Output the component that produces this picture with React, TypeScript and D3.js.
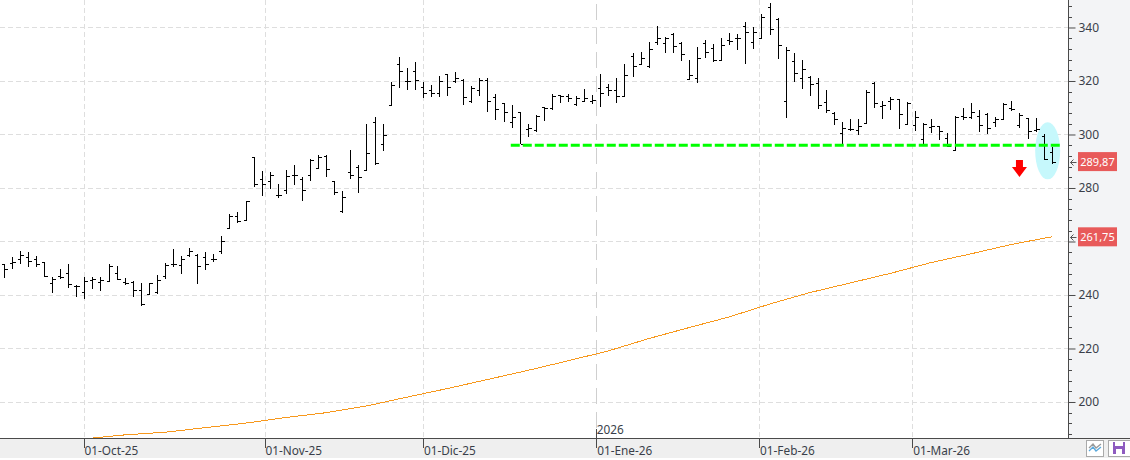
import { useEffect, useRef } from 'react';
import * as d3 from 'd3';

const opens = [251.6,251.8,253.6,254.3,253.5,252.2,244.4,247.1,248.1,243.4,241.1,245.6,244.9,245.1,248.1,245.0,244.9,241.7,240.2,241.2,247.2,251.7,251.2,254.8,255.1,254.1,253.6,256.3,265.2,269.4,267.9,291.6,283.2,282.5,277.5,279.1,285.0,283.4,284.7,287.6,292.1,282.5,271.5,285.8,288.0,286.6,304.6,296.3,310.9,326.2,320.1,323.6,317.9,316.7,315.7,322.5,319.9,320.4,312.7,316.5,320.4,314.2,311.6,304.5,308.3,301.9,301.8,310.2,309.8,314.7,314.5,311.5,312.7,312.5,317.3,317.9,316.7,314.3,329.2,326.4,325.5,334.7,334.2,337.6,334.2,320.6,321.0,334.2,332.5,328.0,335.5,336.0,340.5,334.5,336.2,347.8,343.1,312.5,327.4,321.0,321.4,319.1,312.0,308.2,300.7,301.9,301.7,304.2,319.3,310.6,312.5,313.1,303.8,303.4,298.2,302.9,303.2,298.6,294.2,306.9,306.7,306.9,307.7,304.7,305.7,309.8,303.7,306.2,301.8,299.4,293.4];
const highs = [251.7,254.1,256.4,256.1,254.7,252.5,246.7,249.6,251.6,243.7,246.9,246.9,246.9,251.5,250.7,246.4,245.1,244.5,244.6,247.4,252.1,257.2,254.6,257.4,255.2,256.2,255.2,262.1,270.2,271.0,275.3,291.6,286.2,286.0,281.5,286.7,288.6,284.0,291.0,292.2,292.2,282.7,278.9,294.2,288.7,303.9,306.4,304.1,319.5,328.8,324.7,327.0,319.8,318.4,321.7,322.6,323.2,320.6,318.0,321.3,321.0,315.0,311.6,310.9,308.4,304.1,307.3,310.2,315.0,314.9,315.2,314.3,316.9,314.8,322.6,319.0,321.0,326.4,330.5,330.9,334.4,340.6,336.6,337.8,334.7,327.9,332.7,335.2,333.7,336.1,338.0,337.5,342.2,340.0,344.9,349.2,343.4,332.6,330.5,327.7,321.9,321.0,316.6,308.5,304.5,305.8,305.8,316.5,319.5,312.4,313.9,313.1,312.3,308.7,304.2,305.7,303.3,300.4,306.9,309.8,311.8,309.2,307.9,306.4,311.6,312.4,307.9,306.2,306.2,300.0,295.4];
const lows = [246.4,249.8,251.7,250.6,250.6,246.9,240.7,246.1,242.7,239.4,238.6,242.4,241.6,244.7,245.7,243.9,239.4,236.0,240.2,240.2,246.1,250.3,248.0,254.3,244.2,249.5,252.2,255.4,264.5,266.8,267.8,280.2,277.1,279.7,276.4,277.6,281.2,275.3,282.7,287.2,284.0,277.5,270.8,283.5,278.2,286.6,288.7,293.9,310.9,317.5,316.7,316.7,313.7,314.1,314.1,314.5,319.1,311.1,311.9,314.5,308.5,305.5,304.6,302.5,296.3,299.0,301.1,305.2,309.2,311.9,312.3,310.8,312.2,311.4,310.4,314.5,311.9,314.2,321.6,325.8,324.9,333.6,330.6,330.6,327.6,320.5,319.4,328.7,327.2,327.5,333.6,331.6,326.5,332.1,335.6,337.2,328.4,306.3,319.8,317.1,314.5,309.7,308.2,303.7,296.4,301.4,299.9,304.2,310.0,305.9,309.2,302.2,303.8,301.4,296.4,300.7,298.0,295.2,294.0,305.4,305.8,301.0,300.3,302.9,305.7,308.7,302.5,298.4,300.9,290.5,289.1];
const closes = [249.6,252.2,254.8,252.6,251.6,247.2,246.1,246.6,244.1,243.4,245.1,246.0,245.5,251.0,246.0,244.6,241.7,236.6,244.4,245.5,251.2,251.7,253.5,256.3,250.7,251.7,253.6,260.2,269.7,267.7,275.1,281.4,281.5,284.7,277.3,284.5,285.0,279.1,290.5,291.7,287.0,278.6,276.5,285.0,284.2,292.9,289.2,299.7,318.5,323.6,320.1,320.3,315.4,315.7,319.9,317.6,321.3,313.9,317.2,320.2,312.4,309.4,308.4,306.4,296.5,302.5,307.1,309.8,314.4,314.4,313.7,313.5,313.8,313.0,315.4,316.8,314.3,322.1,325.5,328.5,331.9,336.2,336.0,332.9,330.1,322.1,328.5,330.7,327.9,333.4,334.8,336.0,338.2,338.2,343.8,339.6,333.5,331.6,323.0,324.4,318.9,311.0,309.2,305.7,302.5,302.2,303.3,315.8,311.6,311.0,313.3,307.7,311.6,306.4,303.9,303.3,301.3,295.7,306.7,306.7,308.5,303.6,302.3,305.7,311.3,309.4,307.3,301.3,302.2,290.8,289.87];

// moving average, read every few sessions
const maSessions = [11,15,20,25,30,35,40,45,50,55,60,65,70,75,80,85,90,95,100,105,110,115,120,125,130];
const maValues = [186.5,187.7,188.7,190.4,192.1,194.2,196.0,198.5,201.8,205.0,208.4,211.8,215.4,219.1,223.7,227.8,231.8,236.6,240.9,244.5,248.1,252.1,255.4,258.9,261.75];

const dateLabels = ['01-Oct-25','01-Nov-25','01-Dic-25','01-Ene-26','01-Feb-26','01-Mar-26'];
const dateSessions = [9.9,32.36,52.0,73.5,93.7,112.7];
const yearSession = 73.45;
const priceTicks = [200,220,240,260,280,300,320,340];
const minorTicks = d3.range(188, 352, 4);

const supportPrice = 296;
const supportFrom = 62.9;
const supportTo = 131;
const lastPrice = 289.87;
const maLast = 261.75;

const W = 1130;
const H = 460;
const plotRight = 1068;
const plotBottom = 438;
const font = '"Noto Sans", sans-serif';
const textColor = '#3a3f4a';

export default function App() {
  const svgRef = useRef<SVGSVGElement>(null);

  useEffect(() => {
    if (!svgRef.current) return;
    const svg = d3.select(svgRef.current);
    svg.selectAll('*').remove();

    const x = d3.scaleLinear().domain([0, 130]).range([3.7, 1051.7]);
    const y = d3.scaleLinear().domain([186.54, 350.28]).range([plotBottom, 0]);
    const px = (v: number) => Math.round(v) + 0.5;

    svg.append('rect').attr('width', W).attr('height', H).attr('fill', '#fff');

    // panels
    svg.append('rect').attr('x', plotRight).attr('y', 0)
      .attr('width', W - plotRight).attr('height', plotBottom).attr('fill', '#f3f4f6');
    svg.append('rect').attr('x', 0).attr('y', plotBottom)
      .attr('width', W).attr('height', 20).attr('fill', '#efefef');

    // Grid lines
    svg.selectAll('.h-grid').data(priceTicks).enter().append('line')
      .attr('class', 'h-grid')
      .attr('x1', 0).attr('x2', plotRight)
      .attr('y1', d => px(y(d))).attr('y2', d => px(y(d)))
      .attr('stroke', '#dedede').attr('stroke-dasharray', '5,3');

    svg.selectAll('.v-grid').data(dateSessions.filter(d => d !== 73.5)).enter().append('line')
      .attr('class', 'v-grid')
      .attr('x1', d => px(x(d))).attr('x2', d => px(x(d)))
      .attr('y1', 0).attr('y2', plotBottom)
      .attr('stroke', '#dedede').attr('stroke-dasharray', '5,3');

    svg.append('line')
      .attr('x1', px(x(yearSession))).attr('x2', px(x(yearSession)))
      .attr('y1', 4).attr('y2', plotBottom)
      .attr('stroke', '#cfcfcf').attr('stroke-dasharray', '16,8');

    // Highlight ellipse behind the last bars
    svg.append('ellipse')
      .attr('cx', x(129.5)).attr('cy', y(293.9))
      .attr('rx', 12.5).attr('ry', 28.5)
      .attr('fill', '#c6f8fc');

    // Moving average
    const maLine = d3.line<number>()
      .x((_, i) => x(maSessions[i]))
      .y(d => y(d));
    svg.append('path')
      .datum(maValues)
      .attr('fill', 'none')
      .attr('stroke', '#f7981d')
      .attr('stroke-width', 1)
      .attr('shape-rendering', 'crispEdges')
      .attr('d', maLine);

    // OHLC bars
    const bars = svg.append('g')
      .attr('stroke', '#000')
      .attr('stroke-width', 1)
      .attr('shape-rendering', 'crispEdges');
    opens.forEach((open, i) => {
      const cx = px(x(i));
      bars.append('line').attr('x1', cx).attr('x2', cx)
        .attr('y1', y(highs[i])).attr('y2', y(lows[i]));
      bars.append('line').attr('x1', cx - 3).attr('x2', cx)
        .attr('y1', px(y(open))).attr('y2', px(y(open)));
      bars.append('line').attr('x1', cx).attr('x2', cx + 3)
        .attr('y1', px(y(closes[i]))).attr('y2', px(y(closes[i])));
    });

    // Support line
    svg.append('line')
      .attr('x1', x(supportFrom)).attr('x2', x(supportTo))
      .attr('y1', y(supportPrice)).attr('y2', y(supportPrice))
      .attr('stroke', '#00ff00').attr('stroke-width', 3)
      .attr('stroke-dasharray', '9,3');

    // Red down arrow
    const ax = x(126);
    const aTop = y(290.5);
    const aTip = y(284.1);
    svg.append('path')
      .attr('d', `M${ax - 3.5},${aTop}H${ax + 3.5}V${aTop + 7}H${ax + 7.5}L${ax},${aTip}L${ax - 7.5},${aTop + 7}H${ax - 3.5}Z`)
      .attr('fill', '#ff0000');

    // Clean the plot bottom edge, the average runs into it
    svg.append('line')
      .attr('x1', 0).attr('x2', W)
      .attr('y1', plotBottom + 0.5).attr('y2', plotBottom + 0.5)
      .attr('stroke', '#4a4a4a');

    // Price axis, the 260 label sits under the average's flag so it stays blank
    const yAxis = svg.append('g')
      .attr('transform', `translate(${plotRight + 0.5},0)`)
      .call(d3.axisRight(y).tickValues(priceTicks).tickSize(7).tickPadding(3)
        .tickFormat(d => (d === 260 ? '' : String(d))));
    yAxis.select('.domain').remove();
    yAxis.selectAll('line').attr('stroke', '#4a4a4a');
    yAxis.selectAll('text')
      .style('font-family', font).style('font-size', '12px').style('fill', textColor);
    svg.append('line')
      .attr('x1', plotRight + 0.5).attr('x2', plotRight + 0.5)
      .attr('y1', 0).attr('y2', plotBottom)
      .attr('stroke', '#4a4a4a');
    svg.selectAll('.minor').data(minorTicks.filter(d => d % 20 !== 0)).enter().append('line')
      .attr('class', 'minor')
      .attr('x1', plotRight).attr('x2', plotRight + 4)
      .attr('y1', d => px(y(d))).attr('y2', d => px(y(d)))
      .attr('stroke', '#4a4a4a');

    // Value flags
    [lastPrice, maLast].forEach(v => {
      const cy = y(v);
      svg.append('rect')
        .attr('x', 1078).attr('y', cy - 9.5)
        .attr('width', 39).attr('height', 19)
        .attr('fill', '#e85a5a');
      svg.append('text')
        .attr('x', 1097.5).attr('y', cy + 4)
        .attr('text-anchor', 'middle')
        .style('font-family', font).style('font-size', '11px').style('fill', '#fff')
        .text(d3.format('.2f')(v).replace('.', ','));
      svg.append('path')
        .attr('d', `M1076.5,${px(cy)}H1070.5M1073.5,${px(cy) - 3}L1070.5,${px(cy)}L1073.5,${px(cy) + 3}`)
        .attr('fill', 'none').attr('stroke', '#555');
    });

    // Date axis
    const dates = svg.append('g');
    dateSessions.forEach((d, i) => {
      dates.append('line')
        .attr('x1', px(x(d))).attr('x2', px(x(d)))
        .attr('y1', plotBottom).attr('y2', plotBottom + 10)
        .attr('stroke', '#4a4a4a');
      dates.append('text')
        .attr('x', x(d) + 1).attr('y', 454.5)
        .style('font-family', font).style('font-size', '11.8px').style('fill', textColor)
        .text(dateLabels[i]);
    });
    svg.append('line')
      .attr('x1', px(x(yearSession))).attr('x2', px(x(yearSession)))
      .attr('y1', 429).attr('y2', plotBottom)
      .attr('stroke', '#4a4a4a');
    svg.append('text')
      .attr('x', x(yearSession) + 1).attr('y', 434)
      .style('font-family', font).style('font-size', '11.8px').style('fill', textColor)
      .text('2026');

    // Toolbar buttons
    svg.append('rect').attr('x', 1086.5).attr('y', 440.5).attr('width', 17).attr('height', 16)
      .attr('fill', '#fff').attr('stroke', '#aaa');
    svg.append('path').attr('d', 'M1089,448L1093,444L1096,448L1101,444')
      .attr('fill', 'none').attr('stroke', '#999').attr('stroke-width', 1.3);
    svg.append('path').attr('d', 'M1089,451L1093,447L1096,451L1101,447')
      .attr('fill', 'none').attr('stroke', '#5aa9dc').attr('stroke-width', 1.3);
    svg.append('rect').attr('x', 1108.5).attr('y', 440.5).attr('width', 24).attr('height', 16)
      .attr('fill', '#fff').attr('stroke', '#aaa');
    svg.append('rect').attr('x', 1113).attr('y', 442).attr('width', 12).attr('height', 12).attr('fill', '#8e5bc0');
    svg.append('rect').attr('x', 1115).attr('y', 442).attr('width', 8).attr('height', 4).attr('fill', '#fff');
    svg.append('rect').attr('x', 1116).attr('y', 449).attr('width', 6).attr('height', 5).attr('fill', '#fff');
  }, []);

  return (
    <svg
      ref={svgRef}
      width={W}
      height={H}
      style={{ position: 'absolute', left: 0, top: 0, display: 'block' }}
    />
  );
}
